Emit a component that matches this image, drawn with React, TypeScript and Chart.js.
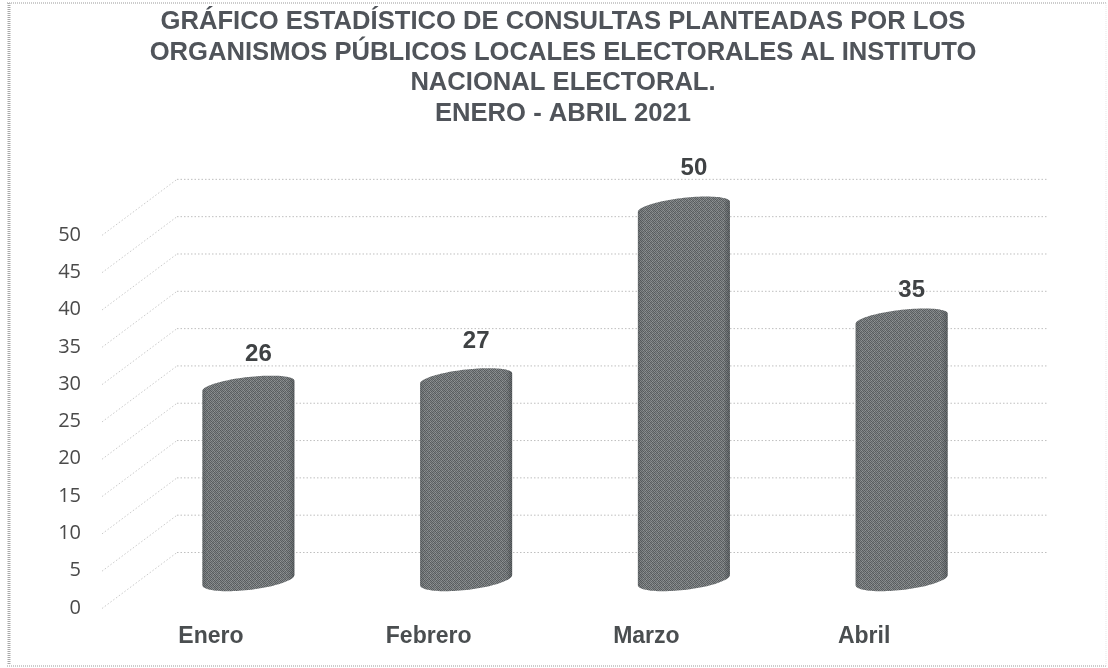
import React, { useEffect, useRef } from "react";
import { Chart, registerables } from "chart.js";

Chart.register(...registerables);

const titleLines = [
  "GRÁFICO ESTADÍSTICO DE CONSULTAS PLANTEADAS POR LOS",
  "ORGANISMOS PÚBLICOS LOCALES ELECTORALES AL INSTITUTO",
  "NACIONAL ELECTORAL.",
  "ENERO - ABRIL 2021",
];
const months = ["Enero", "Febrero", "Marzo", "Abril"];
const consultas = [26, 27, 50, 35];
const labelNudgeY = [-32, -37, -38, -28];

const DEPTH_X = 75;
const DEPTH_Y = 56;
const SHEAR = 0.11;
const RY = 9;
const INK = "#4a4e50";

function makeTexture(ctx: CanvasRenderingContext2D) {
  const tile = [
    "#5a5e60", "#84888a", "#63676a", "#8e9293", "#5e6264", "#7d8183",
    "#808486", "#55595b", "#888c8d", "#5c6062", "#8b8f90", "#585c5e",
    "#616568", "#909495", "#585c5e", "#7b7f82", "#64686a", "#86898b",
    "#84888a", "#5e6264", "#7d8183", "#55595b", "#929697", "#5f6365",
    "#575b5d", "#81858a", "#666a6c", "#8c9091", "#56595b", "#83878a",
    "#8a8e8f", "#5b5f61", "#84888a", "#616568", "#7f8385", "#595d5f",
  ];
  const off = document.createElement("canvas");
  off.width = 6;
  off.height = 6;
  const o = off.getContext("2d")!;
  tile.forEach((c, i) => {
    o.fillStyle = c;
    o.fillRect(i % 6, Math.floor(i / 6), 1, 1);
  });
  return ctx.createPattern(off, "repeat")!;
}

function silhouette(ctx: CanvasRenderingContext2D, cx: number, top: number, base: number, rx: number) {
  const k = SHEAR * rx;
  const N = 48;
  ctx.beginPath();
  for (let i = 0; i <= N; i++) {
    const t = Math.PI + (Math.PI * i) / N;
    const x = cx + rx * Math.cos(t);
    const y = top + RY * Math.sin(t) - (k * (x - cx)) / rx;
    if (i === 0) ctx.moveTo(x, y);
    else ctx.lineTo(x, y);
  }
  for (let i = 0; i <= N; i++) {
    const t = (Math.PI * i) / N;
    const x = cx + rx * Math.cos(t);
    const y = base + (RY + 1) * Math.sin(t) - (k * (x - cx)) / rx;
    ctx.lineTo(x, y);
  }
  ctx.closePath();
}

const depthPlugin = {
  id: "depth",
  afterLayout(chart: any) {
    chart.titleBlock.left = 18;
    chart.titleBlock.right = 1108;
  },
  beforeDraw(chart: any) {
    const { ctx, width, height } = chart;
    ctx.save();
    ctx.fillStyle = "#ffffff";
    ctx.fillRect(0, 0, width, height);
    ctx.strokeStyle = "#a9a9a9";
    ctx.setLineDash([1, 1]);
    ctx.lineWidth = 3;
    ctx.beginPath();
    ctx.moveTo(9, 3);
    ctx.lineTo(9, 665);
    ctx.stroke();
    ctx.lineWidth = 1.5;
    ctx.strokeStyle = "#bcbcbc";
    ctx.beginPath();
    ctx.moveTo(7, 3);
    ctx.lineTo(1106, 3);
    ctx.moveTo(7, 666);
    ctx.lineTo(1106, 666);
    ctx.stroke();
    ctx.lineWidth = 1;
    ctx.strokeStyle = "#e6e6e6";
    ctx.beginPath();
    ctx.moveTo(1106, 3);
    ctx.lineTo(1106, 666);
    ctx.stroke();
    ctx.restore();
  },
  beforeDatasetsDraw(chart: any) {
    const { ctx, chartArea, scales } = chart;
    ctx.save();
    ctx.setLineDash([1.5, 2]);
    ctx.lineWidth = 1;
    scales.y.ticks.forEach((tick: any) => {
      const y = scales.y.getPixelForValue(tick.value) + 0.5;
      ctx.strokeStyle = "#cbcbcb";
      ctx.beginPath();
      ctx.moveTo(chartArea.left, y);
      ctx.lineTo(chartArea.left + DEPTH_X, y - DEPTH_Y);
      ctx.stroke();
      ctx.strokeStyle = "#bfbfbf";
      ctx.beginPath();
      ctx.moveTo(chartArea.left + DEPTH_X, y - DEPTH_Y);
      ctx.lineTo(chartArea.right + DEPTH_X, y - DEPTH_Y);
      ctx.stroke();
    });
    ctx.restore();
  },
  beforeDatasetDraw(chart: any, args: any) {
    const { ctx } = chart;
    const meta = chart.getDatasetMeta(args.index);
    const texture = makeTexture(ctx);
    meta.data.forEach((bar: any) => {
      const { x, y, base, width } = bar.getProps(["x", "y", "base", "width"], true);
      const cx = x + DEPTH_X / 2;
      const top = y - DEPTH_Y / 2;
      const bottom = base - DEPTH_Y / 2;
      const rx = width / 2;
      ctx.save();
      silhouette(ctx, cx, top, bottom, rx);
      ctx.fillStyle = texture;
      ctx.fill();
      const shade = ctx.createLinearGradient(cx - rx, 0, cx + rx, 0);
      shade.addColorStop(0, "rgba(60,65,68,0.25)");
      shade.addColorStop(0.06, "rgba(60,65,68,0)");
      shade.addColorStop(0.93, "rgba(60,65,68,0)");
      shade.addColorStop(1, "rgba(50,55,58,0.45)");
      ctx.fillStyle = shade;
      ctx.fill();
      ctx.restore();
    });
    return false;
  },
  afterDatasetsDraw(chart: any) {
    const { ctx } = chart;
    const meta = chart.getDatasetMeta(0);
    ctx.save();
    ctx.font = "bold 24px 'Liberation Sans'";
    ctx.fillStyle = "#3f4244";
    ctx.textAlign = "center";
    ctx.textBaseline = "middle";
    meta.data.forEach((bar: any, i: number) => {
      const { x, y } = bar.getProps(["x", "y"], true);
      ctx.fillText(String(consultas[i]), x + DEPTH_X / 2 + 10, y - DEPTH_Y / 2 + labelNudgeY[i]);
    });
    ctx.restore();
  },
};

export default function App() {
  const ref = useRef<HTMLCanvasElement>(null);
  useEffect(() => {
    const chart = new Chart(ref.current!, {
      type: "bar",
      data: {
        labels: months,
        datasets: [
          {
            label: "Consultas",
            data: consultas,
            backgroundColor: "#707476",
            barPercentage: 0.4225,
            categoryPercentage: 1,
          },
        ],
      },
      options: {
        responsive: false,
        animation: false,
        layout: { padding: { left: 0, right: 135, top: 0, bottom: 0 } },
        plugins: {
          legend: { display: false },
          tooltip: { enabled: false },
          title: {
            display: true,
            text: titleLines,
            color: "#50545a",
            font: { family: "'Liberation Sans'", size: 25.6, weight: "bold", lineHeight: 1.19 },
            padding: { top: 7, bottom: 106 },
          },
        },
        scales: {
          x: {
            grid: { display: false },
            border: { display: false },
            ticks: {
              color: INK,
              font: { family: "'Liberation Sans'", size: 23, weight: "bold" },
              padding: 7,
              maxRotation: 0,
            },
            afterFit: (s: any) => {
              s.height = 60;
            },
          },
          y: {
            min: 0,
            max: 50,
            grid: { display: false },
            border: { display: false },
            ticks: {
              stepSize: 5,
              color: "#4a4a4a",
              font: { family: "'Open Sans'", size: 20 },
              padding: 13,
            },
            afterFit: (s: any) => {
              s.width = 102;
            },
          },
        },
      },
      plugins: [depthPlugin],
    } as any);
    return () => chart.destroy();
  }, []);
  return (
    <canvas
      ref={ref}
      width={1108}
      height={668}
      style={{ position: "fixed", left: 0, top: 0, display: "block", filter: "blur(0.4px)" }}
    />
  );
}
